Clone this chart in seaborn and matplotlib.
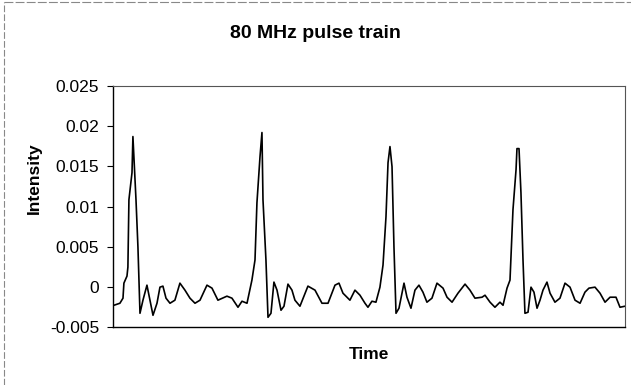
import matplotlib
matplotlib.use("Agg")
import matplotlib.pyplot as plt
import seaborn as sns
import pandas as pd
from matplotlib.lines import Line2D

# Sampled pulse train: time in ns, detector intensity (a.u.)
time_ns = [
    0.10, 0.68, 0.98, 1.07, 1.37, 1.46, 1.56, 1.86, 1.95, 2.25, 2.44, 2.64, 2.93,
    3.32, 3.61, 3.91, 4.30, 4.59, 4.88, 5.18, 5.57, 6.05, 6.54, 7.03, 7.52, 8.01,
    8.50, 9.18, 9.67, 10.25, 11.13, 11.62, 12.21, 12.60, 13.09, 13.57, 13.87,
    14.06, 14.36, 14.55, 14.65, 14.94, 15.14, 15.43, 15.72, 16.02, 16.41, 16.70,
    17.09, 17.48, 17.77, 18.26, 19.04, 19.73, 20.41, 21.00, 21.68, 22.07, 22.46,
    23.14, 23.63, 24.12, 24.61, 24.90, 25.29, 25.68, 26.07, 26.37, 26.66, 26.86,
    27.05, 27.25, 27.44, 27.64, 27.93, 28.42, 28.71, 29.10, 29.49, 29.88, 30.27,
    30.66, 31.15, 31.64, 32.23, 32.62, 33.11, 33.69, 34.38, 34.86, 35.35, 36.04,
    36.33, 36.82, 37.30, 37.79, 38.09, 38.48, 38.77, 39.06, 39.36, 39.45, 39.65,
    39.84, 40.04, 40.23, 40.53, 40.82, 41.11, 41.41, 41.70, 41.99, 42.38, 42.68,
    43.16, 43.65, 44.14, 44.63, 45.12, 45.61, 46.09, 46.48, 47.07, 47.56, 48.05,
    48.54, 49.12, 49.51, 50.00,
]

intensity = [
    -0.00229, -0.00204, -0.00141, 0.00046, 0.00134, 0.00246, 0.01084, 0.01421,
    0.01871, 0.01084, 0.00496, -0.00329, -0.00166, 0.00021, -0.00166, -0.00354,
    -0.00204, -0.00004, 0.00009, -0.00141, -0.00204, -0.00166, 0.00046, -0.00041,
    -0.00141, -0.00204, -0.00166, 0.00021, -0.00016, -0.00166, -0.00116, -0.00141,
    -0.00254, -0.00179, -0.00204, 0.00084, 0.00334, 0.01046, 0.01621, 0.01921,
    0.01084, 0.00334, -0.00379, -0.00329, 0.00059, -0.00041, -0.00291, -0.00241,
    0.00034, -0.00041, -0.00166, -0.00241, 0.00009, -0.00041, -0.00204, -0.00204,
    0.00021, 0.00046, -0.00079, -0.00166, -0.00041, -0.00104, -0.00204, -0.00254,
    -0.00179, -0.00191, -0.00004, 0.00271, 0.00871, 0.01546, 0.01746, 0.01496,
    0.00496, -0.00329, -0.00266, 0.00046, -0.00129, -0.00266, -0.00041, 0.00021,
    -0.00066, -0.00191, -0.00141, 0.00046, -0.00016, -0.00129, -0.00191, -0.00079,
    0.00034, -0.00041, -0.00141, -0.00129, -0.00104, -0.00191, -0.00254, -0.00191,
    -0.00229, -0.00016, 0.00084, 0.00959, 0.01459, 0.01721, 0.01721, 0.01171,
    0.00334, -0.00329, -0.00316, -0.00004, -0.00066, -0.00266, -0.00166, -0.00041,
    0.00059, -0.00079, -0.00191, -0.00141, 0.00046, -0.00004, -0.00166, -0.00204,
    -0.00066, -0.00016, -0.00004, -0.00079, -0.00191, -0.00129, -0.00129, -0.00254,
    -0.00241,
]

y_ticks = [-0.005, 0, 0.005, 0.01, 0.015, 0.02, 0.025]
y_tick_labels = ["-0.005", "0", "0.005", "0.01", "0.015", "0.02", "0.025"]

df = pd.DataFrame({"Time": time_ns, "Intensity": intensity})

sns.set_theme(style="white")
plt.rcParams["font.family"] = ["Liberation Sans", "DejaVu Sans"]

fig = plt.figure(figsize=(6.31, 3.85), dpi=100)
ax = fig.add_axes([0.179, 0.1506, 0.8115, 0.626])

sns.lineplot(data=df, x="Time", y="Intensity", ax=ax, color="black",
             linewidth=1.2, estimator=None, sort=False,
             solid_joinstyle="round")

ax.set_xlim(0, 50)
ax.set_ylim(-0.005, 0.025)
ax.set_xticks([])
ax.set_yticks(y_ticks)
ax.set_yticklabels(y_tick_labels, fontsize=12.5, color="black")
ax.tick_params(axis="y", direction="out", length=4, width=0.8, color="black",
               left=True, pad=6)

ax.set_xlabel("")
ax.set_ylabel("")

for side in ("left", "bottom"):
    ax.spines[side].set_color("black")
    ax.spines[side].set_linewidth(1.0)
for side in ("top", "right"):
    ax.spines[side].set_color("#555555")
    ax.spines[side].set_linewidth(0.8)

fig.text(0.5, 0.912, "80 MHz pulse train", ha="center", va="center",
         fontsize=14, fontweight="bold", color="black")
fig.text(0.055, 0.536, "Intensity", ha="center", va="center", rotation=90,
         fontsize=12.5, fontweight="bold", color="black")
fig.text(0.585, 0.078, "Time", ha="center", va="center",
         fontsize=12.5, fontweight="bold", color="black")

# chart-area frame
fig.add_artist(Line2D([0.006, 0.006], [0.0, 0.995], transform=fig.transFigure,
                      color="#888888", linewidth=0.8, linestyle=(0, (6, 2))))
fig.add_artist(Line2D([0.006, 1.0], [0.995, 0.995], transform=fig.transFigure,
                      color="#888888", linewidth=0.8, linestyle=(0, (8, 2))))

fig.savefig("out.png", dpi=100, facecolor="white")
